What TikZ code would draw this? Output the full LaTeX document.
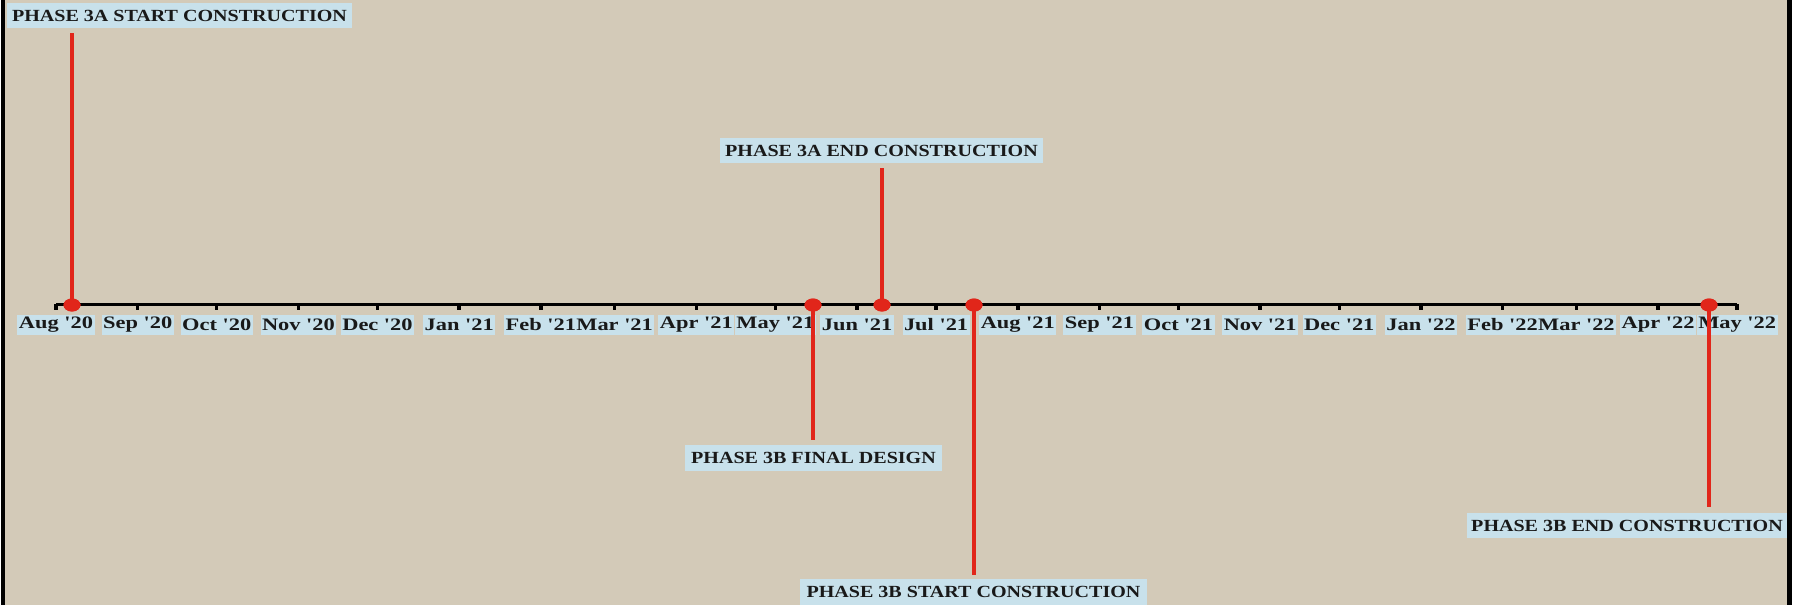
\documentclass[tikz,border=0pt]{standalone}
\usepackage{fontspec}
\setmainfont{Liberation Serif}[FakeStretch=1.18]
\newfontfamily\monthfont{Liberation Serif}[FakeStretch=1.28]
\usetikzlibrary{shapes.geometric}
\definecolor{bgbeige}{HTML}{D3CAB8}
\definecolor{lblblue}{HTML}{C8E1EB}
\definecolor{msred}{HTML}{E1261A}
\tikzset{
  phaselabel/.style={fill=lblblue, inner sep=0pt, font=\fontsize{17}{18}\selectfont\bfseries, text=black!90},
  monthlabel/.style={fill=lblblue, inner xsep=1.5pt, inner ysep=0pt, minimum height=20pt, font=\monthfont\fontsize{17.5}{18}\selectfont\bfseries, text=black!90},
  msline/.style={draw=msred, line width=4.5pt},
  msdot/.style={ellipse, fill=msred, minimum width=17pt, minimum height=13pt, inner sep=0pt},
  axisline/.style={draw=black, line width=3pt},
  tickmark/.style={draw=black, line width=3.5pt}
}
\begin{document}
\begin{tikzpicture}[x=1pt,y=-1pt]
\useasboundingbox (0,0) rectangle (1802,605);
\fill[white] (0,0) rectangle (1802,605);
\fill[bgbeige] (5,0) rectangle (1787,605);
\fill[black] (1,0) rectangle (5,605);
\fill[black] (1787,0) rectangle (1792,605);
% axis
\coordinate (ax0) at (56,304);
\coordinate (ax1) at (1737,304);
\draw[axisline] (ax0) -- (ax1);
% months
\foreach \d/\lab [count=\i] in {0/Aug '20,31/Sep '20,61/Oct '20,92/Nov '20,122/Dec '20,153/Jan '21,184/Feb '21,212/Mar '21,243/Apr '21,273/May '21,304/Jun '21,334/Jul '21,365/Aug '21,396/Sep '21,426/Oct '21,457/Nov '21,487/Dec '21,518/Jan '22,549/Feb '22,577/Mar '22,608/Apr '22,638/May '22}{
  \coordinate (t\i) at ({56+\d*2.635},304);
  \coordinate (tb\i) at ({56+\d*2.635},310);
  \draw[tickmark] (t\i) -- (tb\i);
  \node[monthlabel] (m\i) at ({56+\d*2.635},325) {\lab};
}
% milestone lines
\coordinate (e1) at (72,33);
\coordinate (e2) at (882,168);
\coordinate (e3) at (813,440);
\coordinate (e4) at (974,575);
\coordinate (e5) at (1709,507);
\node[msdot] (d1) at (72,305) {};
\node[msdot] (d2) at (882,305) {};
\node[msdot] (d3) at (813,305) {};
\node[msdot] (d4) at (974,305) {};
\node[msdot] (d5) at (1709,305) {};
\draw[msline] (d1.center) -- (e1);
\draw[msline] (d2.center) -- (e2);
\draw[msline] (d3.center) -- (e3);
\draw[msline] (d4.center) -- (e4);
\draw[msline] (d5.center) -- (e5);
\node[msdot] at (d1) {};
\node[msdot] at (d2) {};
\node[msdot] at (d3) {};
\node[msdot] at (d4) {};
\node[msdot] at (d5) {};
% phase labels
\node[phaselabel, minimum width=345pt, minimum height=25pt] (p1) at (179.5,15.5) {PHASE 3A START CONSTRUCTION};
\node[phaselabel, minimum width=323pt, minimum height=25pt] (p2) at (881.5,150.5) {PHASE 3A END CONSTRUCTION};
\node[phaselabel, minimum width=257pt, minimum height=26pt] (p3) at (813.5,458) {PHASE 3B FINAL DESIGN};
\node[phaselabel, minimum width=347pt, minimum height=26pt] (p4) at (973.5,592) {PHASE 3B START CONSTRUCTION};
\node[phaselabel, minimum width=320pt, minimum height=25pt] (p5) at (1627,525.5) {PHASE 3B END CONSTRUCTION};
\end{tikzpicture}
\end{document}
